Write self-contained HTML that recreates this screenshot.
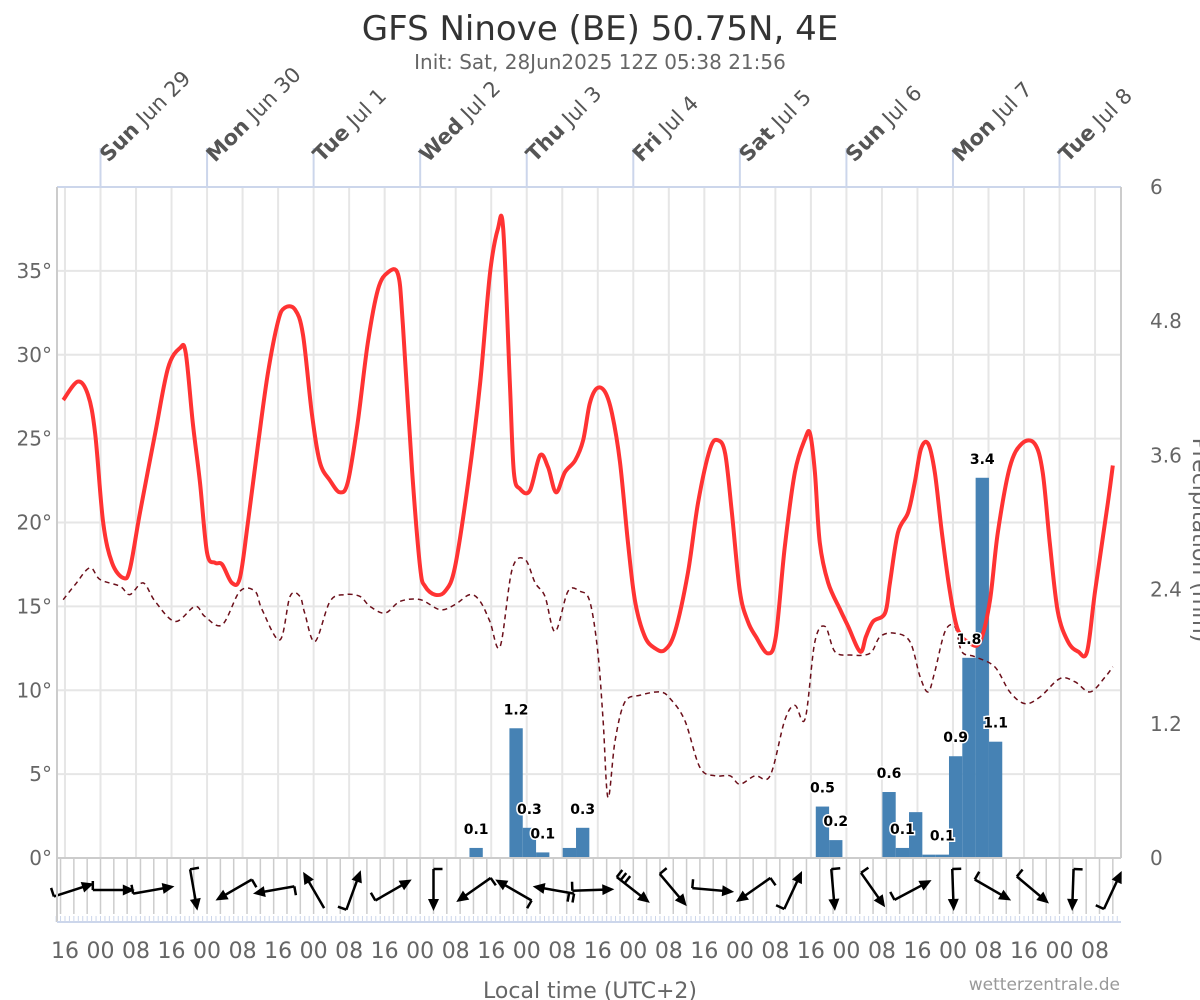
<!DOCTYPE html>
<html><head><meta charset="utf-8">
<style>
html,body{margin:0;padding:0;background:#fff;overflow:hidden;}
svg{display:block;font-family:"DejaVu Sans","Liberation Sans",sans-serif;}
</style></head>
<body>
<svg id="chart" width="1200" height="1000" viewBox="0 0 1200 1000" xmlns="http://www.w3.org/2000/svg">
<rect x="0" y="0" width="1200" height="1000" fill="#fff"/>
<text x="600" y="40" text-anchor="middle" font-size="34" fill="#333">GFS Ninove (BE) 50.75N, 4E</text>
<text x="600" y="69" text-anchor="middle" font-size="20" fill="#666">Init: Sat, 28Jun2025 12Z 05:38 21:56</text>
<g id="grid"></g>
<g id="bars"></g>
<g id="lines"></g>
<g id="labels"></g>
<g id="wind"></g>
<g id="axes"></g>
<text x="590" y="998" text-anchor="middle" font-size="22" fill="#666">Local time (UTC+2)</text>
<text x="1120" y="990" text-anchor="end" font-size="17" fill="#999">wetterzentrale.de</text>
<text transform="translate(1193,540) rotate(90)" text-anchor="middle" font-size="22" fill="#666">Precipitation (mm)</text>
</svg>
<script>
// ---- data ----
const tempHours = [-8.4,-5.1,-2.8,-1.2,0.6,2.6,5.1,6.6,8.9,12.3,15.2,17.9,19.2,20.8,22.4,24,25.8,27.4,29.6,31.4,33.2,35.5,37.7,40,41.5,43.8,45.6,47.6,49.4,51.7,53.9,55.7,57.9,60.2,62.5,64.7,67,68.1,70.2,72,73.1,75.3,77.6,79.8,82.8,85.5,87.7,89.5,90.7,92.2,93.1,94.5,96.7,99,100.8,102.6,104.6,106.9,108.7,110.2,111.8,113.6,115.2,117,118.8,120.4,122.6,124.9,127.1,129.4,132.3,134.6,137.3,139.1,140.7,142.2,144,145.8,147.6,150.3,152.1,154.1,156.4,158.7,159.8,160.9,162,163.9,166.6,168.4,171.1,172.4,174,176.7,177.8,179.6,181.9,183.4,184.8,186.4,187.9,189.5,191.3,193.1,195.8,198.1,200.3,202.1,204.8,207.5,210.4,212.2,213.8,215.6,217.9,220.2,222.2,224,226.9,228];
const tempValues = [27.3,28.4,27.6,25.3,20,17.6,16.7,17.2,20.6,25.3,29.2,30.4,30.1,25.9,22.4,18.2,17.6,17.5,16.4,16.7,20,24.7,28.9,32,32.8,32.7,31.2,26.5,23.6,22.5,21.8,22.4,25.9,30.7,33.9,34.9,34.8,31.8,23,17.3,16.2,15.7,15.9,17.3,22.4,28.3,34.8,37.5,37.5,28.3,23,22,21.9,24,23.3,21.8,23,23.7,24.9,27.1,28,27.8,26.5,23.6,18.8,15.3,13.2,12.5,12.4,13.5,17,21.2,24.4,24.9,24.1,20.6,15.9,14.1,13.2,12.2,13.2,18.5,23,25,25.3,23,18.8,16.4,14.8,13.8,12.3,13.2,14.1,14.6,16.4,19.4,20.6,22.4,24.4,24.7,23,19.4,15.9,13.6,12.8,12.9,15.3,19.4,23.3,24.7,24.7,23,18.8,14.7,12.9,12.3,12.3,15.9,21.2,23.4];
const dewHours = [-8.4,-5.7,-2.4,-0.1,4.4,6.6,9.6,12.3,16.8,21.3,23.5,27.4,31.4,34.8,36.4,40.4,42.7,44.9,46,48.3,51.7,55,58.4,60.7,64.1,67.5,72,76.5,79.8,83.2,85.5,87.7,90,92.7,95.6,97.9,100.1,102.4,105.3,108,110.2,112,113.2,114.3,115.9,118.1,121.5,126,128.3,131.6,135,138.4,141.8,144,147.4,150.8,154.1,156.4,158.7,160.9,163.2,165.4,168.8,173.3,175.6,178.9,182.3,184.6,186.4,187.9,190.2,192.4,194,196.9,201.4,204.8,208.2,211.6,216.1,219.5,222.9,226.3,228];
const dewValues = [15.4,16.3,17.3,16.6,16.2,15.7,16.4,15.3,14.1,15.0,14.4,13.9,15.9,15.9,14.8,13.0,15.6,15.6,14.6,12.9,15.3,15.7,15.6,15.0,14.6,15.3,15.4,14.8,15.1,15.7,15.3,14.1,12.6,17.2,17.8,16.4,15.6,13.5,15.9,15.9,15.3,12.3,8.2,3.6,7.0,9.3,9.7,9.9,9.5,8.2,5.4,4.9,4.9,4.4,4.9,4.9,8.2,9.1,8.3,12.9,13.8,12.3,12.1,12.2,13.2,13.4,12.9,10.8,9.9,11.1,13.5,13.8,12.3,12.0,11.4,9.9,9.2,9.6,10.7,10.5,9.9,10.8,11.4];
const precipHours = [84.6,93.6,96.6,99.6,105.6,108.6,162.6,165.6,177.6,180.6,183.6,186.6,189.6,192.6,195.6,198.6,201.6];
const precipValues = [0.09,1.16,0.27,0.05,0.09,0.27,0.46,0.16,0.59,0.09,0.41,0.03,0.03,0.91,1.79,3.4,1.04];
const precipLabels = ['0.1','1.2','0.3','0.1','','0.3','0.5','0.2','0.6','0.1','','','0.1','0.9','1.8','3.4','1.1'];
const windHours = [-6,3,12,21,30,39,48,57,66,75,84,93,102,111,120,129,138,147,156,165,174,183,192,201,210,219,228];
const windDirTo = [72,90,80,170,240,260,330,20,60,180,235,300,280,88,128,140,95,235,25,175,145,62,178,120,130,182,25];
const windFeathers = [1,1,1,1,1,1,0,1,1,1,1,1,2,1,3,1,1,1,1,1,1,1,1,1,1,1,1];
const tempTicks = [0,5,10,15,20,25,30,35];
const precipTicks = [0,1.2,2.4,3.6,4.8,6];
const hourTickLabels = ['16','00','08'];
const dayLabelsBold = ['Sun','Mon','Tue','Wed','Thu','Fri','Sat','Sun','Mon','Tue'];
const dayLabelsDate = ['Jun 29','Jun 30','Jul 1','Jul 2','Jul 3','Jul 4','Jul 5','Jul 6','Jul 7','Jul 8'];

// ---- scales ----
const PL=57, PR=1121, PT=187, PB=858, WB=922;
const X = h => 100.5 + h*4.44;
const YT = t => PB - t*(PB-PT)/40;
const YP = p => PB - p*(PB-PT)/6;
const NS='http://www.w3.org/2000/svg';
function mk(tag, attrs, parent){const e=document.createElementNS(NS,tag);for(const k in attrs)e.setAttribute(k,attrs[k]);parent.appendChild(e);return e;}
const grid=document.getElementById('grid'), bars=document.getElementById('bars'), lines=document.getElementById('lines'), labels=document.getElementById('labels'), wind=document.getElementById('wind'), axes=document.getElementById('axes');

for(const t of tempTicks){
  const l=mk('line',{x1:PL,x2:PR,y1:YT(t),y2:YT(t),stroke:'#e6e6e6','stroke-width':2},grid);
  
  
  const tx=mk('text',{x:52,y:YT(t)+7,'text-anchor':'end','font-size':20,fill:'#666'},axes);
  tx.textContent=t+'°';
  
  
}
for(let i=0;i<30;i++){
  const h=-8+i*8; if(X(h)>PR) break;
  const l=mk('line',{x1:X(h),x2:X(h),y1:PT,y2:PB,stroke:'#e6e6e6','stroke-width':2},grid);
  
  
  const tx=mk('text',{x:X(h),y:958,'text-anchor':'middle','font-size':22,fill:'#666'},axes);
  tx.textContent=hourTickLabels[i%3];
  
  
}
for(let h=-9;X(h)<PR;h+=3){
  const l=mk('line',{x1:X(h),x2:X(h),y1:PB,y2:WB-8,stroke:'#ccc','stroke-width':1.5},grid);
  
  
}
for(let h=-10;X(h)<PR;h+=1){
  const l=mk('line',{x1:X(h),x2:X(h),y1:WB-6,y2:WB,stroke:'#ccd6eb','stroke-width':1},grid);
  
  
}
for(const p of precipTicks){
  const tx=mk('text',{x:1150,y:YP(p)+7,'text-anchor':'start','font-size':20,fill:'#666'},axes);
  tx.textContent=String(p);
  
  
}
let fr=mk('line',{x1:PL,x2:PR,y1:PT,y2:PT,stroke:'#ccd6eb','stroke-width':2},axes);

fr=mk('line',{x1:PL,x2:PL,y1:PT,y2:WB,stroke:'#ccc','stroke-width':2},axes);

fr=mk('line',{x1:PR,x2:PR,y1:PT,y2:PB,stroke:'#ccc','stroke-width':2},axes);

fr=mk('line',{x1:PL,x2:PR,y1:PB,y2:PB,stroke:'#ccc','stroke-width':2},axes);

fr=mk('line',{x1:PL,x2:PR,y1:WB,y2:WB,stroke:'#ccd6eb','stroke-width':2},axes);

for(let i=0;i<dayLabelsBold.length;i++){
  const x=X(i*24);
  const l=mk('line',{x1:x,x2:x,y1:148,y2:PT,stroke:'#ccd6eb','stroke-width':2},axes);
  
  
  const tx=mk('text',{transform:`translate(${x+8},${163}) rotate(-45)`,'font-size':21,fill:'#555'},axes);
  
  
  const b=mk('tspan',{'font-weight':'bold'},tx); b.textContent=dayLabelsBold[i];
  const n=mk('tspan',{},tx); n.textContent=' '+dayLabelsDate[i];
}
for(let i=0;i<precipHours.length;i++){
  const x0=X(precipHours[i]-1.5), x1=X(precipHours[i]+1.5);
  const r=mk('rect',{x:x0,y:YP(precipValues[i]),width:x1-x0,height:PB-YP(precipValues[i]),fill:'#4682b4'},bars);
  
  
  if(precipLabels[i]){
    const tx=mk('text',{x:(x0+x1)/2,y:YP(precipValues[i])-14,'text-anchor':'middle','font-size':14,'font-weight':'bold',fill:'#000',stroke:'#fff','stroke-width':3,'paint-order':'stroke'},labels);
    tx.textContent=precipLabels[i];
    
    
  }
}
function smooth(hs,vs){
  const p=hs.map((h,i)=>[X(h),YT(vs[i])]);
  let d=`M${p[0][0]},${p[0][1]}`;
  for(let i=0;i<p.length-1;i++){
    const a=p[i-1]||p[i], b=p[i], c=p[i+1], e=p[i+2]||c;
    const c1=[b[0]+(c[0]-a[0])/6,b[1]+(c[1]-a[1])/6], c2=[c[0]-(e[0]-b[0])/6,c[1]-(e[1]-b[1])/6];
    d+=`C${c1[0]},${c1[1]} ${c2[0]},${c2[1]} ${c[0]},${c[1]}`;
  }
  return d;
}
const dew=mk('path',{d:smooth(dewHours,dewValues),fill:'none',stroke:'#6b0f1a','stroke-width':1.5,'stroke-dasharray':'5,4'},lines);


const tmp=mk('path',{d:smooth(tempHours,tempValues),fill:'none',stroke:'#ff3333','stroke-width':4,'stroke-linejoin':'round'},lines);


for(let i=0;i<windHours.length;i++){
  const cx=X(windHours[i]), cy=890, L=21;
  const a=windDirTo[i]*Math.PI/180, dx=Math.sin(a), dy=-Math.cos(a);
  const hx=cx+dx*L, hy=cy+dy*L, tx=cx-dx*L, ty=cy-dy*L;
  const g=mk('g',{stroke:'#000','stroke-width':2.5,fill:'#000'},wind);
  
  
  mk('line',{x1:tx,y1:ty,x2:hx-dx*6,y2:hy-dy*6},g);
  const px=-dy, py=dx;
  mk('polygon',{points:`${hx},${hy} ${hx-dx*12+px*5.5},${hy-dy*12+py*5.5} ${hx-dx*12-px*5.5},${hy-dy*12-py*5.5}`,stroke:'none'},g);
  for(let f=0;f<windFeathers[i];f++){
    const bx=tx+dx*f*5, by=ty+dy*f*5;
    mk('line',{x1:bx,y1:by,x2:bx-px*9,y2:by-py*9},g);
  }
}
</script>
</body></html>
